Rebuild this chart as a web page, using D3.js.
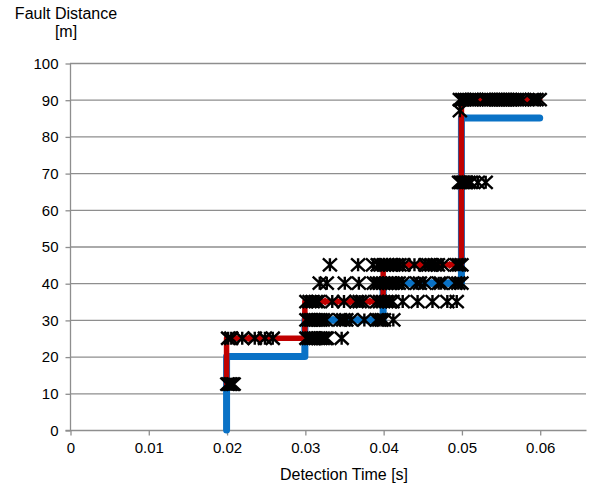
<!DOCTYPE html>
<html><head><meta charset="utf-8">
<script src="https://cdn.jsdelivr.net/npm/d3@7"></script>
<style>body{margin:0;background:#fff}svg{display:block}text{font-family:"Liberation Sans",Arial,sans-serif;fill:#000}</style>
</head><body><svg id="c" width="591" height="486"></svg>
<script>
// ---- data ----
const xTicks = [0, 0.01, 0.02, 0.03, 0.04, 0.05, 0.06];
const yTicks = [0, 10, 20, 30, 40, 50, 60, 70, 80, 90, 100];
const xTitle = "Detection Time [s]";
const yTitle1 = "Fault Distance";
const yTitle2 = "[m]";

// blue step (actual distance)
const blueLineTime = [0.02, 0.02, 0.03, 0.03, 0.04, 0.04, 0.05, 0.05, 0.06];
const blueLineDist = [0, 20, 20, 30, 30, 40, 40, 85, 85];
const bluePointTime = [0.0336, 0.0368, 0.0383, 0.0434, 0.0462, 0.0483];
const bluePointDist = [30, 30, 30, 40, 40, 40];

// red step (estimated distance)
const redLineTime = [0.02, 0.02, 0.03, 0.03, 0.04, 0.04, 0.05, 0.05, 0.06];
const redLineDist = [12.5, 25, 25, 35, 35, 45, 45, 90, 90];
const redPointTime = [0.0211, 0.0229, 0.0243, 0.0254, 0.0326, 0.0341, 0.0358, 0.0383, 0.0434, 0.0447, 0.0485, 0.0524, 0.0584];
const redPointDist = [25, 25, 25, 25, 35, 35, 35, 35, 45, 45, 45, 90, 90];

// detection results (star markers), one list of times per distance row
const starRowDist = [12.5, 25, 30, 35, 40, 45, 67.5, 87, 90];
const starRowTimes = [
  [0.0201, 0.0203, 0.0205, 0.0207, 0.0209],
  [0.0202, 0.0206, 0.0220, 0.0236, 0.0249, 0.0259, 0.0302, 0.0305, 0.0308, 0.0311, 0.0314, 0.0317, 0.0320, 0.0323, 0.0326, 0.0328, 0.0347],
  [0.0302, 0.0305, 0.0308, 0.0311, 0.0314, 0.0317, 0.0320, 0.0323, 0.0327, 0.0345, 0.0349, 0.0353, 0.0359, 0.0376, 0.0392, 0.0395, 0.0398, 0.0401, 0.0413],
  [0.0302, 0.0306, 0.0310, 0.0314, 0.0317, 0.0335, 0.0350, 0.0366, 0.0370, 0.0374, 0.0392, 0.0396, 0.0400, 0.0404, 0.0408, 0.0412, 0.0425, 0.0444, 0.0463, 0.0482, 0.0494],
  [0.0319, 0.0328, 0.0351, 0.0369, 0.0388, 0.0392, 0.0396, 0.0400, 0.0404, 0.0408, 0.0412, 0.0416, 0.0420, 0.0425, 0.0443, 0.0447, 0.0453, 0.0471, 0.0474, 0.0492, 0.0496, 0.0500],
  [0.0332, 0.0368, 0.0387, 0.0393, 0.0397, 0.0401, 0.0405, 0.0409, 0.0413, 0.0417, 0.0421, 0.0426, 0.0440, 0.0454, 0.0458, 0.0462, 0.0466, 0.0470, 0.0476, 0.0494, 0.0497, 0.0500],
  [0.0497, 0.0499, 0.0501, 0.0503, 0.0506, 0.0509, 0.0512, 0.0521, 0.0531],
  [0.0498],
  [0.0498, 0.0501, 0.0504, 0.0507, 0.0510, 0.0513, 0.0516, 0.0519, 0.0529, 0.0532, 0.0535, 0.0538, 0.0541, 0.0544, 0.0547, 0.0550, 0.0553, 0.0556, 0.0559, 0.0562, 0.0565, 0.0568, 0.0571, 0.0574, 0.0578, 0.0590, 0.0593, 0.0596, 0.0600]
];

// ---- layout ----
const svg = d3.select("#c");
const L = 70, R = 618, T = 63, B = 430, gridEnd = 586;
const x = d3.scaleLinear().domain([0, 0.07]).range([L, R]);
const y = d3.scaleLinear().domain([0, 100]).range([B, T]);
const gridCol = "#8e8e8e";

svg.append("rect").attr("width", 591).attr("height", 486).attr("fill", "#fff");

// gridlines
svg.append("g").selectAll("line").data(yTicks.filter(d => d > 0)).join("line")
  .attr("x1", L).attr("x2", gridEnd).attr("y1", d => y(d) + 0.5).attr("y2", d => y(d) + 0.5)
  .attr("stroke", gridCol).attr("stroke-width", 1.3);

// axes
const yAxis = d3.axisLeft(y).tickValues(yTicks).tickSize(5).tickPadding(7).tickFormat(d3.format("d"));
const gy = svg.append("g").attr("transform", `translate(${L + 0.5},0.5)`).call(yAxis);
const xAxis = d3.axisBottom(x).tickValues(xTicks).tickSize(5).tickPadding(7).tickFormat(d => d === 0 ? "0" : d3.format(".2f")(d));
const gx = svg.append("g").attr("transform", `translate(0.5,${B + 0.5})`).call(xAxis);
[gx, gy].forEach(g => {
  g.select(".domain").attr("stroke", gridCol).attr("stroke-width", 1.3);
  g.selectAll(".tick line").attr("stroke", gridCol).attr("stroke-width", 1.3);
  g.selectAll(".tick text").style("font-size", "15px").attr("fill", "#000").style("font-family", '"Liberation Sans",Arial,sans-serif');
});
gy.select(".domain").attr("d", `M-5,${B}H0V${T}`);
gx.select(".domain").attr("d", `M${L},0H${gridEnd}`);

// titles
svg.append("text").attr("x", 344).attr("y", 480).attr("text-anchor", "middle").style("font-size", "16px").text(xTitle);
svg.append("text").attr("x", 66).attr("y", 19).attr("text-anchor", "middle").style("font-size", "16px").text(yTitle1);
svg.append("text").attr("x", 66).attr("y", 37).attr("text-anchor", "middle").style("font-size", "16px").text(yTitle2);

// lines
const line = d3.line().x(d => x(d[0])).y(d => y(d[1]));
const blue = "#0a72c6", red = "#c00000";
svg.append("path").attr("d", line(blueLineTime.map((t, i) => [t, blueLineDist[i]])))
  .attr("fill", "none").attr("stroke", blue).attr("stroke-width", 7).attr("stroke-linejoin", "round").attr("stroke-linecap", "round");
svg.append("path").attr("d", line(redLineTime.map((t, i) => [t, redLineDist[i]])))
  .attr("fill", "none").attr("stroke", red).attr("stroke-width", 5.5).attr("stroke-linejoin", "round").attr("stroke-linecap", "round");

// diamond markers
const diamond = d3.symbol().type(d3.symbolDiamond2).size(45);
svg.append("g").selectAll("path").data(bluePointTime.map((t, i) => [t, bluePointDist[i]])).join("path")
  .attr("d", diamond).attr("transform", d => `translate(${x(d[0])},${y(d[1])})`).attr("fill", blue);
svg.append("g").selectAll("path").data(redPointTime.map((t, i) => [t, redPointDist[i]])).join("path")
  .attr("d", diamond).attr("transform", d => `translate(${x(d[0])},${y(d[1])})`).attr("fill", red);

// star markers
const stars = [];
starRowTimes.forEach((row, r) => row.forEach(t => stars.push([t, starRowDist[r]])));
const w = 7, h = 6.5;
const starPath = `M${-w},${-h}L${w},${h}M${w},${-h}L${-w},${h}M0,${-h}L0,${h}`;
svg.append("g").selectAll("path").data(stars).join("path")
  .attr("d", starPath).attr("transform", d => `translate(${x(d[0])},${y(d[1])})`)
  .attr("fill", "none").attr("stroke", "#000").attr("stroke-width", 2.4);
</script></body></html>
